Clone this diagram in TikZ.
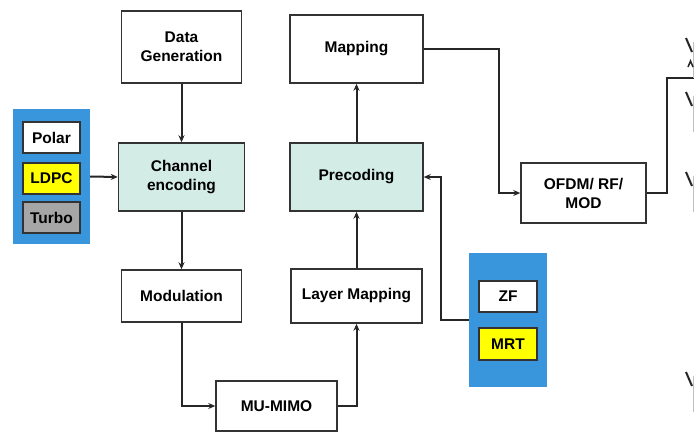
\documentclass[tikz,border=0pt]{standalone}
\usepackage{fontspec}
\setmainfont{Liberation Sans}
\usetikzlibrary{arrows.meta}

\definecolor{tealbox}{HTML}{D3ECE5}
\definecolor{panelblue}{HTML}{3A96DC}
\definecolor{ldpcyellow}{HTML}{FFFF00}
\definecolor{turbogray}{HTML}{A6A6A6}
\definecolor{edgegray}{HTML}{333333}

\begin{document}
\begin{tikzpicture}[x=1pt, y=-1pt,
    blk/.style={draw=edgegray, line width=1.5pt, fill=white, align=center,
        font=\fontsize{15.5}{19}\selectfont\bfseries, inner sep=0pt},
    panel/.style={fill=panelblue, draw=none, inner sep=0pt},
    conn/.style={draw=black!85, line width=2pt, -{Stealth[length=7pt, width=6pt]}},
    wire/.style={draw=black!85, line width=2pt}]
    \useasboundingbox (0,0) rectangle (694,432);

    % left stack of coders
    \node[panel, minimum width=77pt, minimum height=135pt] (codes) at (51.5,176.5) {};
    \node[blk, minimum width=57pt, minimum height=31pt] (polar) at (51.5,137.5) {Polar};
    \node[blk, fill=ldpcyellow, minimum width=57pt, minimum height=31pt] (ldpc) at (51.5,178.5) {LDPC};
    \node[blk, fill=turbogray, minimum width=57pt, minimum height=31pt] (turbo) at (51.5,217.5) {Turbo};

    % transmit chain, left column
    \node[blk, minimum width=120pt, minimum height=72pt] (datagen) at (181.5,47) {Data\\Generation};
    \node[blk, fill=tealbox, minimum width=126pt, minimum height=68pt] (chenc) at (181.5,177) {Channel\\encoding};
    \node[blk, minimum width=120pt, minimum height=52pt] (modul) at (181.5,296) {Modulation};
    \node[blk, minimum width=121pt, minimum height=50pt] (mumimo) at (276.5,406) {MU-MIMO};

    % transmit chain, middle column
    \node[blk, minimum width=131pt, minimum height=54pt] (laymap) at (356.5,296) {Layer Mapping};
    \node[blk, fill=tealbox, minimum width=133pt, minimum height=68pt] (precod) at (356.5,177) {Precoding};
    \node[blk, minimum width=133pt, minimum height=68pt] (mapping) at (356.5,49) {Mapping};
    \node[blk, minimum width=125pt, minimum height=60pt] (ofdm) at (583.5,193) {OFDM/ RF/\\MOD};

    % beamforming choices
    \node[panel, minimum width=78pt, minimum height=134pt] (beamf) at (508,320) {};
    \node[blk, minimum width=58pt, minimum height=31pt] (zf) at (508,296.5) {ZF};
    \node[blk, fill=ldpcyellow, minimum width=58pt, minimum height=32pt] (mrt) at (508,344) {MRT};

    % helper points
    \coordinate (mturn) at (499,49);
    \coordinate (bturn) at (441,177);
    \coordinate (oturn) at (667,193);
    \coordinate (antfeed) at (694,78);

    % connectors
    \draw[conn] (datagen) -- (chenc);
    \draw[conn] (codes.east) -- (chenc.west);
    \draw[conn] (chenc) -- (modul);
    \draw[conn] (modul.south) |- (mumimo.west);
    \draw[conn] (mumimo.east) -| (laymap.south);
    \draw[conn] (laymap) -- (precod);
    \draw[conn] (precod) -- (mapping);
    \draw[conn] (mapping.east) -- (mturn) |- (ofdm.west);
    \draw[conn] (beamf.west) -| (bturn) -- (precod.east);
    \draw[wire] (ofdm.east) -- (oturn) |- (antfeed);

    % antennas cut at the right edge
    \foreach \ya in {38,92,172,372} {
        \draw[black!85, line width=2pt] (686,\ya) -- (692,\ya+14);
        \draw[black!25, line width=0.8pt] (693,\ya+4) -- (693,\ya+40);
    }
    \draw[black!85, line width=1.5pt] (688,67) -- (690.5,61) -- (693,67);
\end{tikzpicture}
\end{document}
